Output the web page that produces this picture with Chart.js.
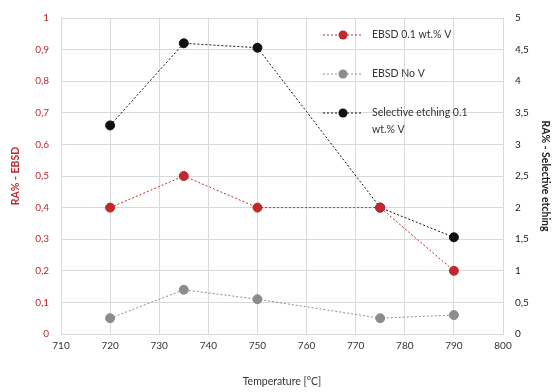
<!DOCTYPE html>
<html><head><meta charset="utf-8">
<script src="https://cdn.jsdelivr.net/npm/chart.js@4/dist/chart.umd.min.js"></script>
<style>html,body{margin:0;padding:0;background:#fff}#wrap{width:559px;height:392px}</style>
</head><body><div id="wrap"><canvas id="c" width="559" height="392"></canvas></div>
<script>
const temperatures = [720, 735, 750, 775, 790];
const ebsdV = [0.40, 0.50, 0.40, 0.40, 0.20];
const ebsdNoV = [0.05, 0.14, 0.11, 0.05, 0.06];
const etchV = [3.3, 4.6, 4.53, 2.0, 1.53];
const seriesLabels = ['EBSD 0.1 wt.% V', 'EBSD No V', 'Selective etching 0.1 wt.% V'];
const legendLines = [['EBSD 0.1 wt.% V'], ['EBSD No V'], ['Selective etching 0.1', 'wt.% V']];
const xTitle = 'Temperature [°C]';
const yLeftTitle = 'RA% - EBSD';
const yRightTitle = 'RA% - Selective etching';

const RED = '#c0282d', GRAY = '#8c8c8c', BLACK = '#111111';
const FONT = 'Lato, "Open Sans", sans-serif';
const pts = arr => arr.map((v, i) => ({x: temperatures[i], y: v}));
const fmt = v => Number(v.toFixed(1)).toString().replace('.', ',');

const legendPlugin = {
  id: 'inLegend',
  afterDraw(chart) {
    const ctx = chart.ctx;
    const rows = [35, 74, 113];
    ctx.save();
    chart.data.datasets.forEach((ds, i) => {
      const y = rows[i];
      ctx.strokeStyle = ds.borderColor; ctx.lineWidth = 1; ctx.setLineDash([2, 2]);
      ctx.beginPath(); ctx.moveTo(323, y); ctx.lineTo(363, y); ctx.stroke();
      ctx.setLineDash([]);
      ctx.fillStyle = ds.pointBackgroundColor;
      ctx.beginPath(); ctx.arc(343, y, ds.pointRadius, 0, Math.PI * 2); ctx.fill();
      ctx.fillStyle = '#333'; ctx.font = '10.5px ' + FONT; ctx.textBaseline = 'middle'; ctx.textAlign = 'left';
      legendLines[i].forEach((t, k) => ctx.fillText(t, 372, y + k * 17));
    });
    ctx.restore();
  }
};

new Chart(document.getElementById('c'), {
  type: 'line',
  data: {
    datasets: [
      {label: seriesLabels[0], data: pts(ebsdV), yAxisID: 'y', borderColor: RED, pointBackgroundColor: RED, pointBorderColor: RED},
      {label: seriesLabels[1], data: pts(ebsdNoV), yAxisID: 'y', borderColor: GRAY, pointBackgroundColor: GRAY, pointBorderColor: GRAY},
      {label: seriesLabels[2], data: pts(etchV), yAxisID: 'y2', borderColor: BLACK, pointBackgroundColor: BLACK, pointBorderColor: BLACK}
    ].map(d => Object.assign(d, {borderWidth: 1, borderDash: [2, 2], pointRadius: 4.5, pointHoverRadius: 4.5, tension: 0, fill: false}))
  },
  options: {
    responsive: false, animation: false,
    layout: {padding: {top: 18, right: 0, left: 0, bottom: 0}},
    plugins: {legend: {display: false}, tooltip: {enabled: false}},
    scales: {
      x: {
        type: 'linear', min: 710, max: 800,
        ticks: {stepSize: 10, color: '#333', font: {family: FONT, size: 10}, padding: 6},
        grid: {color: '#d9d9d9', drawTicks: false},
        border: {color: '#d9d9d9'},
        title: {display: true, text: xTitle, color: '#333', font: {family: FONT, size: 10.5}, padding: {top: 4}},
        afterFit: s => { s.height = 58; }
      },
      y: {
        position: 'left', min: 0, max: 1,
        ticks: {stepSize: 0.1, color: RED, font: {family: FONT, size: 10}, padding: 12, callback: v => fmt(v)},
        grid: {color: '#d9d9d9', drawTicks: false},
        border: {color: '#d9d9d9'},
        title: {display: true, text: yLeftTitle, color: RED, font: {family: FONT, size: 10.5, weight: 'bold'}, padding: {top: 9, bottom: 0}},
        afterFit: s => { s.width = 61; }
      },
      y2: {
        position: 'right', min: 0, max: 5,
        ticks: {stepSize: 0.5, color: '#222', font: {family: FONT, size: 10}, padding: 12, callback: v => fmt(v)},
        grid: {drawOnChartArea: false, drawTicks: false},
        border: {color: '#d9d9d9'},
        title: {display: true, text: yRightTitle, color: '#222', font: {family: FONT, size: 10.5, weight: 'bold'}, padding: {top: 7, bottom: 0}},
        afterFit: s => { s.width = 56; }
      }
    }
  },
  plugins: [legendPlugin]
});
</script></body></html>
